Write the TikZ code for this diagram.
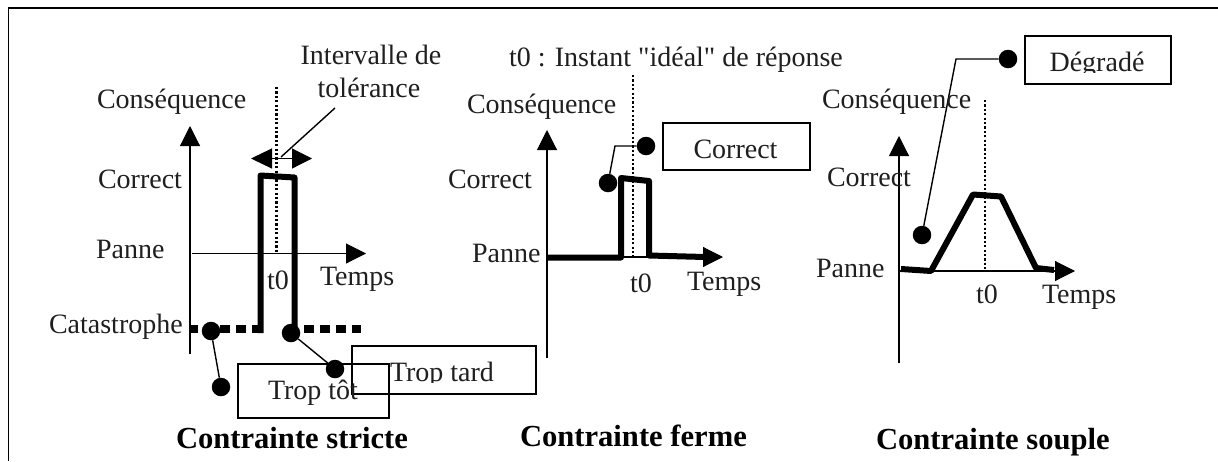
\documentclass[tikz,border=0pt]{standalone}
\usepackage{fontspec}
\setmainfont{Liberation Serif}
\newfontfamily\rawserif{Liberation Serif}
\usetikzlibrary{arrows.meta}
\tikzset{
  lbl/.style={anchor=base west,inner sep=0pt,outer sep=0pt,text=black!88,font=\fontsize{28}{33}\selectfont},
  lblc/.style={lbl,anchor=base},
  ttl/.style={anchor=base west,inner sep=0pt,outer sep=0pt,font=\fontsize{30.6}{35}\selectfont\bfseries},
  axis/.style={line width=1.1pt,-{Triangle[length=20pt,width=20pt]}},
  curve/.style={line width=6pt,line join=round},
  guide/.style={line width=2.6pt,dash pattern=on 2.2pt off 2.2pt},
  dotn/.style={circle,fill=black,inner sep=0pt,minimum size=18.5pt},
  lead/.style={line width=1.4pt},
  tagbox/.style={draw,line width=1.5pt,anchor=north west,inner sep=0pt},
  ddash/.style={line width=8pt,dash pattern=on 10pt off 6pt},
}
\begin{document}
\begin{tikzpicture}[x=1pt,y=-1pt]
\useasboundingbox (0,0) rectangle (1218,461);
\fill[white] (0,0) rectangle (1218,461);
% frame
\coordinate (fa) at (8.5,461); \coordinate (fb) at (8.5,8); \coordinate (fc) at (1218,8);
\draw[line width=1.5pt] (fa) -- (fb) -- (fc);

% ---------- left chart
\coordinate (a1b) at (190,354); \coordinate (a1t) at (190,126);
\coordinate (h1l) at (192,253.5); \coordinate (h1r) at (366,253.5);
\draw[axis] (a1b) -- (a1t);
\draw[axis] (h1l) -- (h1r);
\coordinate (g1t) at (276.5,87); \coordinate (g1b) at (276.5,253);
\draw[guide] (g1t) -- (g1b);
\draw[ddash,dash phase=2pt] (190,329) -- (262,329);
\draw[ddash] (304,329) -- (361,329);
\draw[curve] (260.5,333) -- (260.5,175.5) -- (294.5,177.5) -- (294.5,333);
\coordinate (d1l) at (251,158.5); \coordinate (d1r) at (312,158.5);
\draw[line width=1.2pt,{Triangle[length=21pt,width=20pt]}-{Triangle[length=20pt,width=20pt]}] (d1l) -- (d1r);
\coordinate (iv) at (335,108); \coordinate (ivb) at (281,157);
\draw[lead] (iv) -- (ivb);
\node[dotn] (da) at (211,331) {};
\node[dotn] (db) at (221,387) {};
\node[dotn] (dc) at (291,333) {};
\node[dotn] (dd) at (335,369) {};
\draw[lead] (da) -- (db);
\draw[lead] (dc) -- (dd);
\node[tagbox,minimum width=151pt,minimum height=54pt] (btot) at (237,363) {};
\node[tagbox,minimum width=184pt,minimum height=48pt] (btard) at (351,345) {};
\node[lblc] (ttot) at (313,399) {Trop tôt};
\begin{scope}
\clip (351,345) rectangle (535,382);
\node[lbl] (ttard) at (390,381) {Trop tard};
\end{scope}
\node[lblc] (l1a) at (371,64) {Intervalle de};
\node[lblc] (l1b) at (369,97) {tolérance};
\node[lbl] (l1c) at (97,108) {Conséquence};
\node[lbl] (l1d) at (98,188) {Correct};
\node[lbl] (l1e) at (96,258) {Panne};
\node[lbl] (l1f) at (49,333) {Catastrophe};
\node[lbl] (l1g) at (267,289) {t0};
\node[lbl] (l1h) at (320,285) {Temps};
\node[ttl] (t1) at (176,448) {Contrainte stricte};

% ---------- middle chart
\coordinate (a2b) at (547,358); \coordinate (a2t) at (547,130);
\coordinate (h2l) at (547,257); \coordinate (h2r) at (723,257);
\draw[axis] (a2b) -- (a2t);
\draw[axis] (h2l) -- (h2r);
\coordinate (g2t) at (633,75); \coordinate (g2b) at (633,257);
\draw[guide] (g2t) -- (g2b);
\draw[curve] (547,257.5) -- (621,257.5) -- (621,178) -- (649,181) -- (649,255.5) -- (705,257);
\node[dotn] (de) at (608,183) {};
\node[dotn] (df) at (646,146) {};
\coordinate (k2) at (615,146);
\draw[lead] (de) -- (k2) -- (df);
\node[tagbox,minimum width=147pt,minimum height=47pt] (bcor) at (662,122) {};
\node[lblc] (tcor) at (735.5,158) {Correct};
\node[lbl] (l2z) at (509,66) {\rawserif t0 : Instant "idéal" de réponse};
\node[lbl] (l2c) at (467,113) {Conséquence};
\node[lbl] (l2d) at (448,188) {Correct};
\node[lbl] (l2e) at (472,262) {Panne};
\node[lbl] (l2g) at (630,292) {t0};
\node[lbl] (l2h) at (687,290) {Temps};
\node[ttl] (t2) at (520,446) {Contrainte ferme};

% ---------- right chart
\coordinate (a3b) at (899,363); \coordinate (a3t) at (899,136);
\coordinate (h3l) at (899,271); \coordinate (h3r) at (1075,271);
\draw[axis] (a3b) -- (a3t);
\draw[axis] (h3l) -- (h3r);
\coordinate (g3t) at (985,100); \coordinate (g3b) at (985,271);
\draw[guide] (g3t) -- (g3b);
\draw[curve] (901,269) -- (931,271) -- (973,194.5) -- (1001,196.5) -- (1036,268) -- (1054,270);
\node[dotn] (dg) at (1008,59) {};
\node[dotn] (dh) at (922,235) {};
\coordinate (k3) at (956,59);
\draw[lead] (dg) -- (k3) -- (dh);
\node[tagbox,minimum width=146pt,minimum height=48pt] (bdeg) at (1024,35) {};
\begin{scope}
\clip (1024,35) rectangle (1170,72.5);
\node[lblc] (tdeg) at (1097,71) {Dégradé};
\end{scope}
\node[lbl] (l3c) at (822,108) {Conséquence};
\node[lbl] (l3d) at (827,186) {Correct};
\node[lbl] (l3e) at (816,277) {Panne};
\node[lbl] (l3g) at (976,303) {t0};
\node[lbl] (l3h) at (1042,303) {Temps};
\node[ttl] (t3) at (876,449) {Contrainte souple};
\end{tikzpicture}
\end{document}
